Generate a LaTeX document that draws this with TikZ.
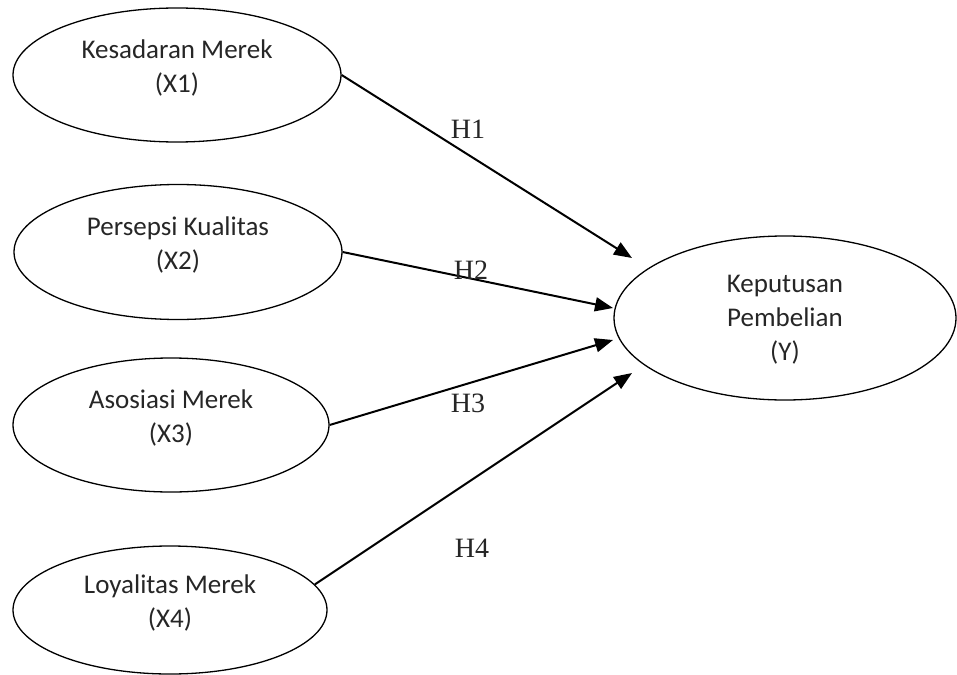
\documentclass[tikz,border=0pt]{standalone}
\usepackage{fontspec}
\setmainfont{Carlito}
\newfontfamily\hfont{Liberation Serif}
\usetikzlibrary{shapes.geometric,arrows.meta}
\tikzset{
  var/.style={ellipse, draw=black, line width=1.3pt, inner sep=0pt, align=center,
    font=\fontsize{27}{34}\selectfont, text=black!85, text depth=18pt},
  hyp/.style={font=\hfont\fontsize{28}{30}\selectfont, text=black!85},
  path/.style={line width=2pt, -{Triangle[length=18pt,width=14pt]}}
}
\begin{document}
\begin{tikzpicture}[x=1pt,y=-1pt]
\useasboundingbox (0,0) rectangle (957,674);
% variabel bebas
\node[var, minimum width=328pt, minimum height=134pt] (x1) at (177,75) {Kesadaran Merek\\(X1)};
\node[var, minimum width=328pt, minimum height=135pt] (x2) at (178,252) {Persepsi Kualitas\\(X2)};
\node[var, minimum width=316pt, minimum height=134pt] (x3) at (171,425) {Asosiasi Merek\\(X3)};
\node[var, minimum width=314pt, minimum height=128pt] (x4) at (170,610) {Loyalitas Merek\\(X4)};
% variabel terikat
\node[var, text depth=0pt, minimum width=342pt, minimum height=164pt] (y) at (785,318) {Keputusan\\Pembelian\\(Y)};
% ujung panah
\coordinate (t1) at (632,258);
\coordinate (t2) at (613,308);
\coordinate (t3) at (613,340);
\coordinate (t4) at (632,373);
\draw[path] (x1.east) -- (t1);
\draw[path] (x2.east) -- (t2);
\draw[path] (x3.east) -- (t3);
\draw[path] (x4.10) -- (t4);
% hipotesis
\node[hyp] (h1) at (468,129) {H1};
\node[hyp] (h2) at (471,270) {H2};
\node[hyp] (h3) at (468,403) {H3};
\node[hyp] (h4) at (472,548) {H4};
\end{tikzpicture}
\end{document}
